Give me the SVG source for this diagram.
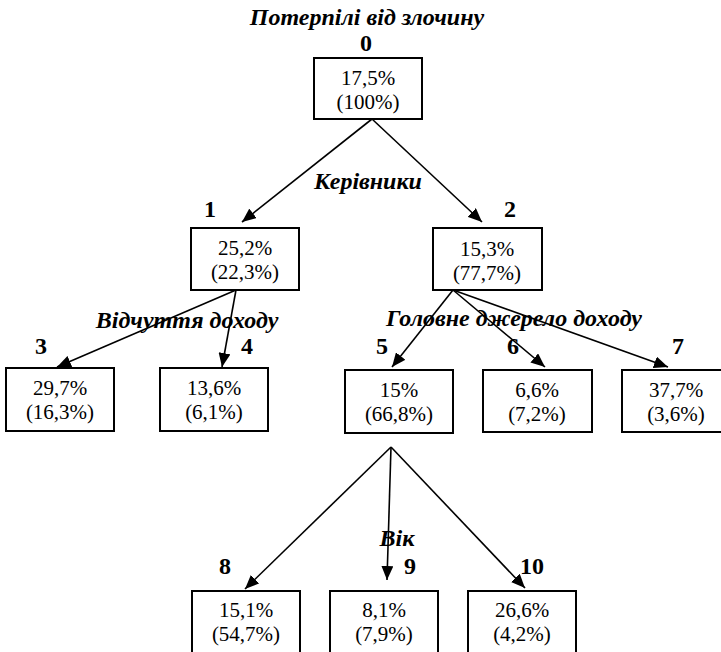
<svg xmlns="http://www.w3.org/2000/svg" width="721" height="652" viewBox="0 0 721 652">
<defs>
<style>
text{font-family:'Liberation Serif','Times New Roman','DejaVu Serif',serif;fill:#000;text-anchor:middle}
.box{fill:#fff;stroke:#000;stroke-width:2}
.val{font-size:21px}
.num{font-size:24px;font-weight:bold}
.lab{font-size:24px;font-weight:bold;font-style:italic}
.edge{stroke:#000;stroke-width:1.6;fill:none;marker-end:url(#arr)}
</style>
<marker id="arr" viewBox="0 0 14 12" refX="14" refY="6" markerWidth="14" markerHeight="12" markerUnits="userSpaceOnUse" orient="auto">
<path d="M0,0 L14,6 L0,12 Z" fill="#000"/>
</marker>
</defs>
<rect width="721" height="652" fill="#fff"/>
<g id="labels">
<text class="lab" x="367" y="25">Потерпілі від злочину</text>
<text class="lab" x="368" y="189">Керівники</text>
<text class="lab" x="187" y="328">Відчуття доходу</text>
<text class="lab" x="514" y="326">Головне джерело доходу</text>
<text class="lab" x="397" y="546">Вік</text>
</g>
<g id="connectors">
<line class="edge" x1="372" y1="119" x2="242" y2="222"/>
<line class="edge" x1="372" y1="119" x2="482" y2="222"/>
<line class="edge" x1="236" y1="290" x2="57" y2="367"/>
<line class="edge" x1="236" y1="290" x2="222" y2="367"/>
<line class="edge" x1="453" y1="290" x2="392" y2="367"/>
<line class="edge" x1="453" y1="290" x2="545" y2="367"/>
<line class="edge" x1="453" y1="290" x2="668" y2="367"/>
<line class="edge" x1="391" y1="447" x2="245" y2="589"/>
<line class="edge" x1="391" y1="447" x2="387" y2="580"/>
<line class="edge" x1="391" y1="447" x2="525" y2="588"/>
</g>
<g id="node0"><text class="num" x="366" y="51">0</text><rect class="box" x="314" y="58" width="108" height="61"/><text class="val" x="368" y="85">17,5%</text><text class="val" x="368" y="109">(100%)</text></g>
<g id="node1"><text class="num" x="210" y="217">1</text><rect class="box" x="191" y="228" width="108" height="62"/><text class="val" x="245" y="255">25,2%</text><text class="val" x="245" y="279">(22,3%)</text></g>
<g id="node2"><text class="num" x="510" y="217">2</text><rect class="box" x="433" y="228" width="109" height="62"/><text class="val" x="487" y="256">15,3%</text><text class="val" x="487" y="280">(77,7%)</text></g>
<g id="node3"><text class="num" x="41" y="354">3</text><rect class="box" x="6" y="368" width="108" height="63"/><text class="val" x="60" y="395">29,7%</text><text class="val" x="60" y="419">(16,3%)</text></g>
<g id="node4"><text class="num" x="247" y="354">4</text><rect class="box" x="160" y="368" width="108" height="63"/><text class="val" x="214" y="395">13,6%</text><text class="val" x="214" y="419">(6,1%)</text></g>
<g id="node5"><text class="num" x="382" y="354">5</text><rect class="box" x="345" y="370" width="108" height="63"/><text class="val" x="399" y="397">15%</text><text class="val" x="399" y="421">(66,8%)</text></g>
<g id="node6"><text class="num" x="513" y="354">6</text><rect class="box" x="483" y="370" width="109" height="62"/><text class="val" x="537" y="397">6,6%</text><text class="val" x="537" y="421">(7,2%)</text></g>
<g id="node7"><text class="num" x="678" y="354">7</text><rect class="box" x="622" y="370" width="110" height="62"/><text class="val" x="676" y="397">37,7%</text><text class="val" x="676" y="421">(3,6%)</text></g>
<g id="node8"><text class="num" x="225" y="574">8</text><rect class="box" x="192" y="591" width="108" height="62"/><text class="val" x="246" y="617">15,1%</text><text class="val" x="246" y="641">(54,7%)</text></g>
<g id="node9"><text class="num" x="410" y="574">9</text><rect class="box" x="330" y="591" width="108" height="62"/><text class="val" x="384" y="617">8,1%</text><text class="val" x="384" y="641">(7,9%)</text></g>
<g id="node10"><text class="num" x="532" y="574">10</text><rect class="box" x="468" y="591" width="108" height="62"/><text class="val" x="522" y="617">26,6%</text><text class="val" x="522" y="641">(4,2%)</text></g>
</svg>
